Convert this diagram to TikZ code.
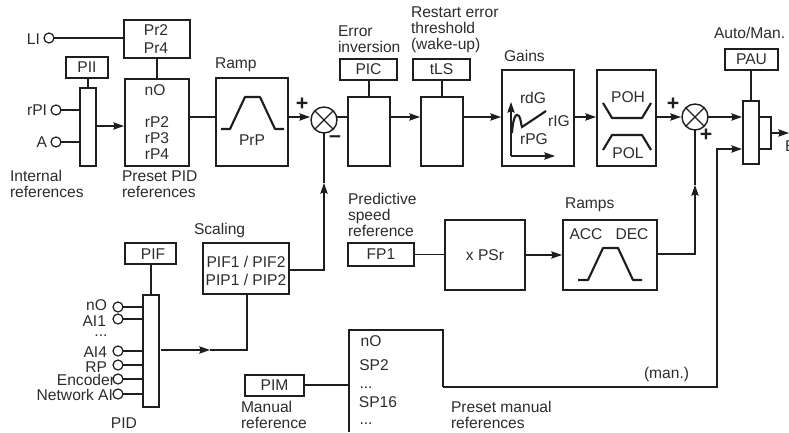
\documentclass[tikz,border=0pt]{standalone}
\usepackage{fontspec}
\setmainfont{Liberation Sans}
\usetikzlibrary{arrows.meta}
\definecolor{ink}{HTML}{1E1E1E}
\definecolor{txt}{HTML}{2C2C2C}
\tikzset{
  boxst/.style={draw=ink,line width=1.05pt,inner sep=0pt,outer sep=0pt,font=\fontsize{11.7}{13}\selectfont,text=txt,align=center},
  thin box/.style={line width=.85pt},
  lab/.style={inner sep=0pt,outer sep=0pt,font=\fontsize{11.7}{12}\selectfont,text=txt,align=left,anchor=west},
  val/.style={inner sep=0pt,outer sep=0pt,font=\fontsize{11.7}{12}\selectfont,text=txt},
  sign/.style={inner sep=0pt,font=\bfseries\fontsize{16}{16}\selectfont,text=ink},
  term/.style={circle,draw=ink,fill=white,line width=.9pt,minimum size=7.5pt,inner sep=0pt,outer sep=0pt},
  sumj/.style={circle,draw=ink,fill=white,line width=1.05pt,minimum size=19.5pt,inner sep=0pt,outer sep=0pt},
  wire/.style={draw=ink,line width=.9pt},
  flow/.style={wire,-{Stealth[length=8pt,width=5.5pt,inset=1pt]},shorten >=.75pt},
  curve/.style={draw=ink,line width=1.6pt},
}
\newcommand{\bx}[7][]{%
  \pgfmathsetmacro{\bw}{(#5-#3)*0.75}%
  \pgfmathsetmacro{\bh}{(#6-#4)*0.75}%
  \node[boxst,minimum width=\bw pt,minimum height=\bh pt,#1] (#2) at ({(#3+#5)/2},{(#4+#6)/2}) {#7};}
\newcommand{\sumnode}[3]{%
  \node[sumj] (#1) at (#2,#3) {};
  \draw[wire] (#1.45) -- (#1.225) (#1.135) -- (#1.315);}
\begin{document}
\begin{tikzpicture}[x=0.75pt,y=-0.75pt]
\useasboundingbox (0,0) rectangle (789,432);
% boxes
\bx{prsel}{124}{20}{190}{58}{}
\bx{pii}{66}{57}{108}{78}{PII}
\bx{ibar}{80}{88}{96}{166}{}
\bx[thin box]{preset}{125}{79}{189}{166}{}
\bx[thin box]{ramp}{216}{78}{288}{166}{}
\bx{pic}{340}{59}{397}{80}{PIC}
\bx{errbox}{348}{97}{390}{166}{}
\bx{tls}{413}{59}{470}{80}{tLS}
\bx{thr}{421}{97}{463}{166}{}
\bx{gains}{502}{70}{574}{166}{}
\bx{lim}{597}{70}{656}{166}{}
\bx{pau}{725}{49}{778}{70}{PAU}
\bx{abar}{743}{101}{759}{164}{}
\bx{aout}{759}{117}{771}{149}{}
\bx{pif}{125}{243}{176}{264}{}
\bx{pbar}{143}{295}{159}{407}{}
\bx[thin box]{scal}{203}{243}{289}{294}{}
\bx{fp}{348}{243}{414}{266}{FP1}
\bx{xpsr}{445}{220}{525}{290}{x PSr}
\bx[thin box]{ramps}{563}{220}{657}{290}{}
\bx{pim}{245}{375}{304}{396}{PIM}
\sumnode{s1}{324}{120}
\sumnode{s2}{695}{117}
% preset manual references box (open at the bottom)
\coordinate (mtl) at (349,330);
\coordinate (mtr) at (443,330);
\coordinate (mbl) at (349,432);
\coordinate (manr) at (443,387);
\draw[draw=ink,line width=.85pt] (mbl) -- (mtl) -- (mtr) -- (manr);
% labels in the boxes
\node[val] (tpr2) at (156,30) {Pr2};
\node[val] (tpr4) at (156,48) {Pr4};
\node[val] (tno) at (155,90) {nO};
\node[val] (trp2) at (157,122) {rP2};
\node[val] (trp3) at (157,138) {rP3};
\node[val] (trp4) at (157,154) {rP4};
\node[val] (tprp) at (252,140) {PrP};
\node[val] (tpif) at (153,254) {PIF};
\node[val] (tsc1) at (246,262) {PIF1 / PIF2};
\node[val] (tsc2) at (246,280) {PIP1 / PIP2};
\node[val] (trdg) at (533,98) {rdG};
\node[val] (trig) at (559,121) {rIG};
\node[val] (trpg) at (534,139) {rPG};
\node[val] (tpoh) at (628,97) {POH};
\node[val] (tpol) at (628,153) {POL};
\node[val] (tacc) at (586,234) {ACC};
\node[val] (tdec) at (632,234) {DEC};
\node[val] (mno) at (371,341) {nO};
\node[val] (msp2) at (374,365) {SP2};
\node[val] (mdot1) at (366,388) {...};
\node[val] (msp16) at (378,402) {SP16};
\node[val] (mdot2) at (366,424) {...};
% outside labels
\node[lab] (lint) at (10,184) {Internal\\references};
\node[lab] (lpre) at (122,184) {Preset PID\\references};
\node[lab] (lramp) at (215,65) {Ramp};
\node[lab] (lerr) at (338,39) {Error\\inversion};
\node[lab] (lrest) at (411,30) {Restart error\\threshold\\(wake-up)};
\node[lab] (lgain) at (504,56) {Gains};
\node[lab] (lauto) at (714,33) {Auto/Man.};
\node[lab] (lscal) at (194,230) {Scaling};
\node[lab] (lpred) at (348,215) {Predictive\\speed\\reference};
\node[lab] (lramps) at (565,205) {Ramps};
\node[lab] (lman) at (241,415) {Manual\\reference};
\node[lab] (lpm) at (451,415) {Preset manual\\references};
\node[lab] (lmanp) at (644,374) {(man.)};
\node[val] (lpid) at (124,423) {PID};
\node[lab] (lE) at (785,146) {E};
% signs
\node[sign] (p1) at (302,104) {+};
\node[sign] (m1) at (335,139) {–};
\node[sign] (p2) at (673,104) {+};
\node[sign] (p3) at (706,135) {+};
% input terminal labels
\node[val,anchor=east] (tli) at (40,39) {LI};
\node[val,anchor=east] (trpi) at (47,110) {rPI};
\node[val,anchor=east] (ta) at (47,142) {A};
\node[val,anchor=east] (tnop) at (107,305) {nO};
\node[val,anchor=east] (tai1) at (106,321) {AI1};
\node[val] (tdots) at (101,336) {...};
\node[val,anchor=east] (tai4) at (107,352) {AI4};
\node[val,anchor=east] (trpp) at (107,367) {RP};
\node[val,anchor=east] (tenc) at (115,380) {Encoder};
\node[val,anchor=east] (tnet) at (113,395) {Network AI};
% terminals
\node[term] (cli) at (49,38) {};
\node[term] (crpi) at (56,110) {};
\node[term] (ca) at (56,142) {};
\node[term] (cno) at (118,307) {};
\node[term] (cai1) at (118,319) {};
\node[term] (cai4) at (118,351) {};
\node[term] (crp) at (118,365) {};
\node[term] (cenc) at (118,379) {};
\node[term] (cnet) at (118,394) {};
% helper levels
\coordinate (lv) at (0,117);
\coordinate (lvi) at (0,126);
\coordinate (lvb) at (0,149);
\coordinate (outend) at (789,133);
\coordinate (mid1) at (324,183);
\coordinate (mid2) at (695,185);
\coordinate (mid3) at (210,350);
% connectors
\draw[wire] (cli) -- (cli -| prsel.west);
\draw[wire] (prsel.south -| preset.north) -- (preset.north);
\draw[wire] (pii.south -| ibar.north) -- (ibar.north);
\draw[wire] (crpi) -- (crpi -| ibar.west);
\draw[wire] (ca) -- (ca -| ibar.west);
\draw[flow] (ibar.east |- lvi) -- (preset.west |- lvi);
\draw[wire] (preset.east |- lv) -- (ramp.west |- lv);
\draw[flow] (ramp.east |- lv) -- (s1.west |- lv);
\draw[wire] (s1.east |- lv) -- (errbox.west |- lv);
\draw[wire] (pic.south -| errbox.north) -- (errbox.north);
\draw[flow] (errbox.east |- lv) -- (thr.west |- lv);
\draw[wire] (tls.south -| thr.north) -- (thr.north);
\draw[flow] (thr.east |- lv) -- (gains.west |- lv);
\draw[flow] (gains.east |- lv) -- (lim.west |- lv);
\draw[flow] (lim.east |- lv) -- (s2.west);
\draw[flow] (s2.east) -- (abar.west |- s2);
\draw[wire] (pau.south -| abar.north) -- (abar.north);
\draw[flow,shorten >=0pt] (aout.east |- outend) -- (outend);
% feedback into first summing point
\draw[wire] (mid1) -- (s1.south);
\draw[flow,shorten >=0pt] (scal.east |- 0,270) -- (324,270) -- (mid1);
% second branch
\draw[wire] (fp.east) -- (xpsr.west |- fp.east);
\draw[flow] (xpsr.east |- 0,255) -- (ramps.west |- 0,255);
\draw[wire] (mid2) -- (s2.south);
\draw[flow,shorten >=0pt] (ramps.east |- 0,254) -- (695,254) -- (mid2);
% PID feedback
\draw[wire] (pif.south -| pbar.north) -- (pbar.north);
\foreach \c in {cno,cai1,cai4,crp,cenc,cnet} \draw[wire] (\c) -- (\c -| pbar.west);
\draw[flow,shorten >=0pt] (161,350) -- (mid3);
\draw[wire] (mid3) -- (247,350) -- (scal.south -| 247,0);
% manual
\draw[wire] (pim.east |- 0,385) -- (mtl |- 0,385);
\draw[flow] (manr) -- (717,387) -- (717,149) -- (abar.west |- lvb);
% curves
\draw[curve,line join=round] (221,129) -- (230,129) -- (245,97) -- (260,97) -- (275,129) -- (284,129);
\draw[curve,line join=round] (578,280) -- (588,280) -- (603,248) -- (618,248) -- (633,280) -- (642,280);
\draw[curve,line join=round] (603,103) -- (612,118) -- (642,118) -- (651,103);
\draw[curve,line join=round] (603,150) -- (612,135) -- (642,135) -- (651,150);
\draw[flow,shorten >=0pt] (511,156) -- (511,102);
\draw[flow,shorten >=0pt] (511,156) -- (555,156);
\draw[curve] (512,133) .. controls (513,118) and (516,112) .. (519,116) .. controls (521,119) and (521,125) .. (522,127) -- (546,111);
\end{tikzpicture}
\end{document}
